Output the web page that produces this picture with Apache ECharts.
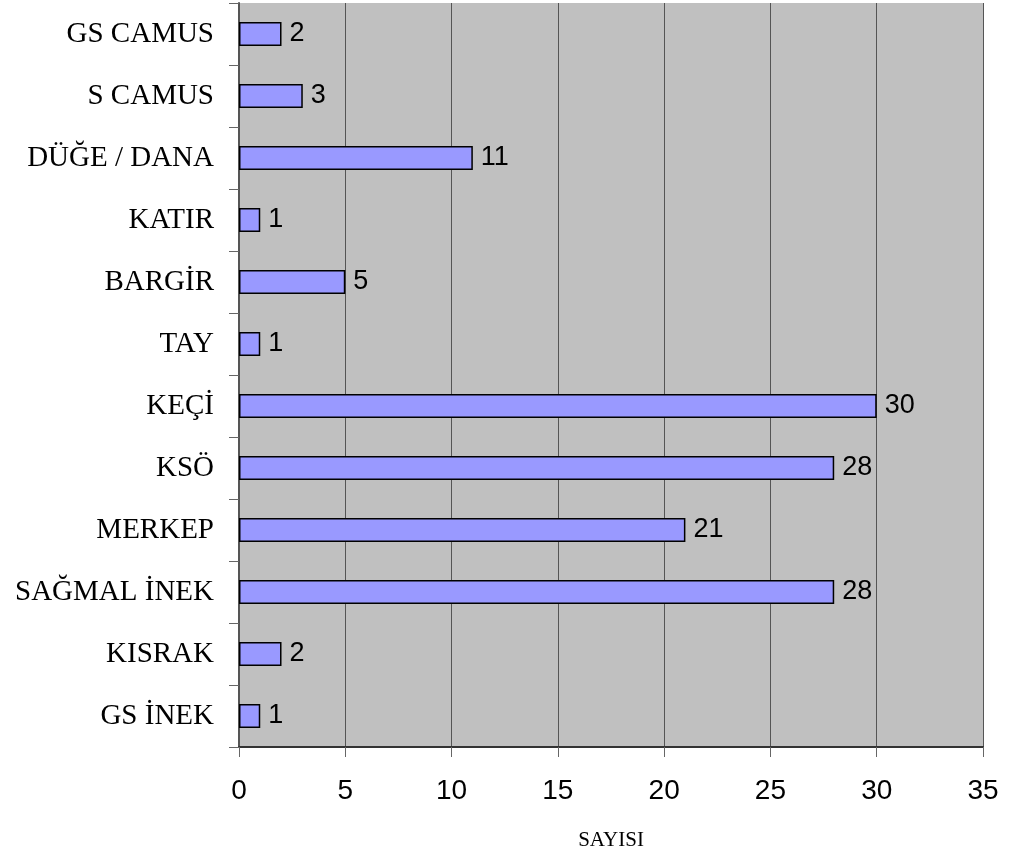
<!DOCTYPE html>
<html><head><meta charset="utf-8">
<script src="https://cdn.jsdelivr.net/npm/echarts@6/dist/echarts.min.js"></script>
<style>html,body{margin:0;padding:0;background:#fff}#c{width:1012px;height:859px}</style>
</head><body><div id="c"></div>
<script>
const categories = ["GS İNEK","KISRAK","SAĞMAL İNEK","MERKEP","KSÖ","KEÇİ","TAY","BARGİR","KATIR","DÜĞE / DANA","S CAMUS","GS CAMUS"];
const values = [1,2,28,21,28,30,1,5,1,11,3,2];
const xTicks = [0,5,10,15,20,25,30,35];
const axisName = "SAYISI";

const chart = echarts.init(document.getElementById('c'), null, {renderer:'canvas'});
chart.setOption({
  animation:false,
  backgroundColor:'#fff',
  grid:{left:239, top:3, width:744, height:744, show:true, backgroundColor:'#C0C0C0', borderWidth:0, containLabel:false, outerBoundsMode:'none'},
  xAxis:{
    type:'value', min:xTicks[0], max:xTicks[xTicks.length-1], interval:5,
    name:axisName, nameLocation:'middle', nameGap:83,
    nameTextStyle:{fontFamily:'Liberation Serif', fontSize:21, color:'#000'},
    axisLine:{show:true, lineStyle:{color:'#333', width:2}},
    axisTick:{show:true, length:10, lineStyle:{color:'#666'}},
    axisLabel:{margin:30, fontFamily:'Liberation Sans', fontSize:28, color:'#000'},
    splitLine:{show:true, lineStyle:{color:'#555', width:1}}
  },
  yAxis:{
    type:'category', data:categories,
    axisLine:{show:true, lineStyle:{color:'#555', width:2}},
    axisTick:{show:true, length:10, lineStyle:{color:'#666'}},
    axisLabel:{margin:25, fontFamily:'Liberation Serif', fontSize:29, color:'#000'},
    splitLine:{show:false}
  },
  series:[{
    type:'bar', data:values, barWidth:24,
    itemStyle:{color:'#9999FF', borderColor:'#000', borderWidth:1.5},
    label:{show:true, position:'right', distance:8, fontFamily:'Liberation Sans', fontSize:27, color:'#000'}
  }]
});
</script></body></html>
